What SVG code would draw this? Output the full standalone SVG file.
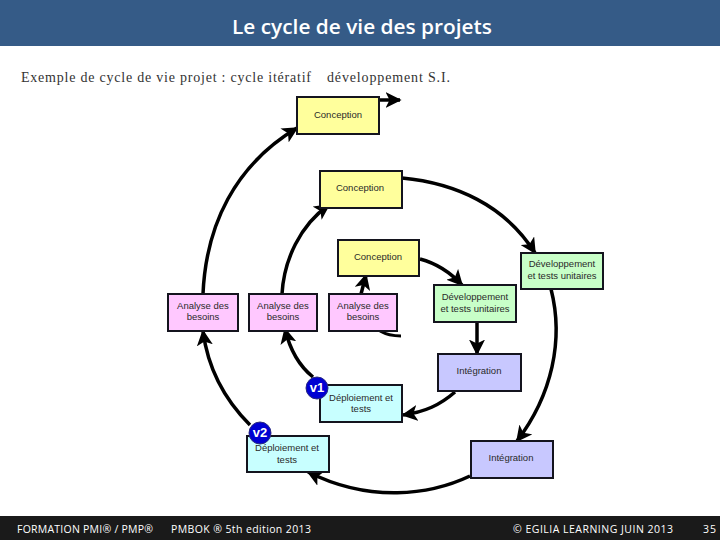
<svg xmlns="http://www.w3.org/2000/svg" width="720" height="540" viewBox="0 0 720 540">
<defs>
<marker id="arrow" viewBox="0 0 10 10" refX="9" refY="5" markerWidth="4.6" markerHeight="4.6" markerUnits="strokeWidth" orient="auto"><path d="M0,0 L10,5 L0,10 L2.5,5 Z" fill="#000"/></marker>
</defs>
<style>
.b{stroke:#14141e;stroke-width:2}
.y{fill:#ffff9c}.p{fill:#ffc8ff}.g{fill:#c8ffc8}.v{fill:#c8c8ff}.c{fill:#c8ffff}
.l{font-family:"Liberation Sans",Arial,sans-serif;font-size:9.5px;fill:#2a2a2a;text-anchor:middle}
.f{font-family:"Open Sans",sans-serif;font-size:10.5px;fill:#fff}
.e{fill:none;stroke:#000;stroke-width:3.5;marker-end:url(#arrow)}
.n{fill:none;stroke:#000;stroke-width:3}
.t{font-family:"Liberation Serif",serif;font-size:14px;fill:#333}
.o{fill:#0000d2;stroke:#2a2a80;stroke-width:1}
.w{font-family:"Liberation Sans",sans-serif;font-size:13px;font-weight:bold;fill:#fff;text-anchor:middle}
</style>
<rect id="header" width="720" height="46" fill="#355b87"/>
<text x="362" y="34" font-family="Open Sans, sans-serif" font-size="20px" font-weight="600" fill="#fff" text-anchor="middle" textLength="260" lengthAdjust="spacingAndGlyphs">Le cycle de vie des projets</text>
<text class="t" x="21" y="82" textLength="290">Exemple de cycle de vie projet : cycle itératif</text>
<text class="t" x="327" y="82" textLength="123">développement S.I.</text>

<g id="connectors">
<path class="e" d="M203,294 C206,225 235,165 297,128"/>
<path class="e" d="M282,294 C284,260 300,225 329,205"/>
<path class="e" d="M361,294 L366,275"/>
<path class="e" d="M379,100 L400,100"/>
<path class="e" d="M402,178 C455,183 505,205 535,253"/>
<path class="e" d="M420,259 C435,263 450,272 462,285"/>
<path class="e" d="M477,322 L477,354"/>
<path class="e" d="M551,289 C564,340 552,395 517,441"/>
<path class="e" d="M470,476 C430,495 370,503 308,472"/>
<path class="e" d="M455,392 C440,405 425,412 403,415"/>
<path class="e" d="M313,377 C298,365 290,350 285,329"/>
<path class="e" d="M250,425 C225,400 208,370 203,331"/>
<path class="n" d="M380,331 C387,335 393,336 401,336"/>
</g>

<g id="conception1"><rect class="b y" x="297" y="97" width="82" height="37"/><text class="l" x="338" y="118">Conception</text></g>
<g id="conception2"><rect class="b y" x="320" y="171" width="82" height="37"/><text class="l" x="360" y="191">Conception</text></g>
<g id="conception3"><rect class="b y" x="338" y="240" width="81" height="36"/><text class="l" x="378" y="260">Conception</text></g>
<g id="analyse1"><rect class="b p" x="168" y="294" width="70" height="37"/><text class="l" x="203" y="309">Analyse des</text><text class="l" x="203" y="320">besoins</text></g>
<g id="analyse2"><rect class="b p" x="249" y="294" width="68" height="37"/><text class="l" x="283" y="309">Analyse des</text><text class="l" x="283" y="320">besoins</text></g>
<g id="analyse3"><rect class="b p" x="329" y="294" width="68" height="37"/><text class="l" x="363" y="309">Analyse des</text><text class="l" x="363" y="320">besoins</text></g>
<g id="dev-outer"><rect class="b g" x="521" y="253" width="82" height="36"/><text class="l" x="562" y="267">Développement</text><text class="l" x="562" y="279">et tests unitaires</text></g>
<g id="dev-inner"><rect class="b g" x="434" y="285" width="82" height="37"/><text class="l" x="475" y="300">Développement</text><text class="l" x="475" y="312">et tests unitaires</text></g>
<g id="integration-inner"><rect class="b v" x="438" y="354" width="83" height="37"/><text class="l" x="479" y="374">Intégration</text></g>
<g id="integration-outer"><rect class="b v" x="471" y="441" width="82" height="37"/><text class="l" x="511" y="461">Intégration</text></g>
<g id="deploy-v1"><rect class="b c" x="320" y="385" width="82" height="37"/><text class="l" x="361" y="401">Déploiement et</text><text class="l" x="361" y="412">tests</text><circle class="o" cx="317" cy="388" r="11"/><text class="w" x="317" y="392">v1</text></g>
<g id="deploy-v2"><rect class="b c" x="247" y="436" width="82" height="36"/><text class="l" x="287" y="451">Déploiement et</text><text class="l" x="287" y="463">tests</text><circle class="o" cx="260" cy="433" r="11"/><text class="w" x="260" y="437">v2</text></g>

<g id="footer">
<rect y="516" width="720" height="24" fill="#1a1a1a"/>
<text class="f" x="17" y="533" textLength="136">FORMATION PMI® / PMP®</text>
<text class="f" x="171" y="533" textLength="140">PMBOK ® 5th edition  2013</text>
<text class="f" x="513" y="533" textLength="160">© EGILIA LEARNING  JUIN 2013</text>
<text class="f" x="703" y="533" textLength="13">35</text>
</g>
</svg>
